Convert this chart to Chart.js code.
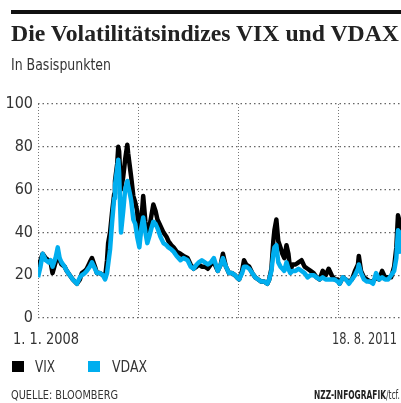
<!DOCTYPE html>
<html>
<head>
<meta charset="utf-8">
<script src="https://cdn.jsdelivr.net/npm/chart.js@4.4.1/dist/chart.umd.min.js"></script>
<style>
  body { margin: 0; width: 401px; height: 403px; position: relative; overflow: hidden; background: #fff;
         font-family: "DejaVu Sans Condensed", "Liberation Sans", sans-serif; color: #222; }
  #chart { position: absolute; left: 0; top: 0; }
  .abs { position: absolute; white-space: nowrap; transform-origin: 0 0; }
  #bar { left: 11px; right: 0; top: 10px; height: 4px; background: #111; }
  #title { left: 11px; top: 22px; font: bold 23.5px/23px "Liberation Serif", serif; color: #222; }
  #sub { left: 11px; top: 58px; font-size: 15px; line-height: 15px; color: #333; }
  .date { top: 331px; font-size: 16px; line-height: 16px; color: #333; }
  .leg { top: 360px; font-size: 16px; line-height: 13px; color: #333; }
  .box { position: absolute; top: 361px; width: 12px; height: 11px; }
  .foot { top: 389px; font-size: 12px; line-height: 12px; color: #333; }
</style>
</head>
<body>
<canvas id="chart" width="401" height="403"></canvas>
<div class="abs" id="bar"></div>
<div class="abs fit" id="title" data-w="388">Die Volatilitätsindizes VIX und VDAX</div>
<div class="abs fit" id="sub" data-w="100">In Basispunkten</div>
<div class="abs date fit" id="dFirst" style="left:13px" data-w="66"></div>
<div class="abs date fit" id="dLast" style="left:332px" data-w="65"></div>
<div id="legend"></div>
<div class="abs foot fit" style="left:11px" data-w="107">QUELLE: BLOOMBERG</div>
<div class="abs foot fit" style="left:314px" data-w="86"><span style="font-weight:bold;color:#222">NZZ-INFOGRAFIK</span>/tcf.</div>

<script>
// Tage seit 1. 1. 2008
const days = [0,9,17,28,39,46,53,64,72,79,86,97,105,116,127,142,153,160,171,178,
  189,197,208,215,226,237,245,252,256,263,270,278,281,289,293,296,303,311,318,326,
  329,337,340,348,355,362,370,377,384,392,399,406,414,421,429,436,447,458,469,476,
  487,495,506,520,531,546,557,568,579,587,598,609,620,631,642,649,656,667,675,686,
  697,708,719,726,734,745,752,760,771,782,793,804,815,826,837,844,852,859,863,870,
  877,885,892,899,907,914,921,929,940,951,962,973,984,995,1006,1017,1028,1039,1050,1061,
  1072,1083,1094,1101,1113,1124,1135,1146,1157,1168,1171,1179,1190,1201,1212,1223,1234,1245,1256,1267,
  1278,1289,1300,1308,1314,1320,1323,1325];

const vix = [24,27,30,28,27,26,21,26,30,27, 25,24,22,20,18,16,18,21,22,23,
  26,28,24,21,21,20,19,27,35,40, 49,58,64,72,80,78,60,66,74,81,
  77,69,66,57,54,50,36,45,57,45, 38,42,48,53,50,46,43,40,38,36,
  34,33,31,30,29,28,25,23,24,25, 24,24,23,25,26,24,22,25,30,24,
  21,21,20,19,18,22,27,25,24,21, 19,18,17,17,16,18,23,36,41,46,
  36,33,30,28,34,30,22,25,25,26, 27,24,23,22,21,19,18,22,20,23,
  20,18,18,16,19,18,17,18,22,25, 29,22,19,18,17,17,19,18,22,19,
  19,19,24,33,48,45,43,40];

const vdax = [19,24,30,27,26,27,24,28,33,28, 26,24,22,20,18,16,19,20,21,22,
  24,26,23,21,21,20,18,21,25,32, 44,56,62,70,74,68,40,50,60,64,
  62,57,55,46,44,38,33,42,47,40, 35,38,42,45,44,42,38,35,34,33,
  32,31,29,27,28,27,24,23,25,26, 27,26,25,26,28,25,22,25,28,24,
  21,21,20,19,18,21,24,24,23,21, 19,18,17,17,16,18,22,30,33,34,
  26,24,23,22,26,23,21,22,22,23, 22,21,19,20,20,19,18,19,18,18,
  18,18,17,16,19,18,16,18,20,23, 25,21,18,17,17,16,21,18,19,18,
  18,20,22,28,41,40,33,30];

const seriesNames = ["VIX", "VDAX"];
const seriesColors = ["#000000", "#00aeef"];
const yearStarts = [0, 366, 731, 1096];
const dateLabels = ["1. 1. 2008", "18. 8. 2011"];
const yTicks = [0, 20, 40, 60, 80, 100];

document.getElementById("dFirst").textContent = dateLabels[0];
document.getElementById("dLast").textContent = dateLabels[1];

// Legende: Kästchen und Text
const legBox = [12, 88], legText = [35, 112], legW = [20, 35];
document.getElementById("legend").innerHTML = seriesNames.map((n, i) =>
  '<div class="box" style="left:' + legBox[i] + 'px;background:' + seriesColors[i] + '"></div>' +
  '<div class="abs leg fit" style="left:' + legText[i] + 'px" data-w="' + legW[i] + '">' + n + '</div>').join("");

// schmale Schrift nachbilden
document.querySelectorAll(".fit").forEach(el => {
  const w = el.getBoundingClientRect().width;
  el.style.transform = "scaleX(" + (el.dataset.w / w) + ")";
});

const toPoints = vals => vals.map((v, i) => ({ x: days[i], y: v }));

new Chart(document.getElementById("chart"), {
  type: "line",
  data: {
    datasets: [
      { label: seriesNames[0], data: toPoints(vix), borderColor: seriesColors[0], order: 1 },
      { label: seriesNames[1], data: toPoints(vdax), borderColor: seriesColors[1], order: 0 }
    ]
  },
  options: {
    responsive: false,
    animation: false,
    devicePixelRatio: 1,
    layout: { padding: { top: 104, bottom: 85, left: 0, right: 0 } },
    elements: {
      point: { radius: 0 },
      line: { borderWidth: 4.5, tension: 0, borderJoinStyle: "round", borderCapStyle: "butt" }
    },
    plugins: { legend: { display: false }, tooltip: { enabled: false } },
    scales: {
      x: {
        type: "linear", min: 0, max: 1325,
        afterBuildTicks: s => { s.ticks = yearStarts.map(v => ({ value: v })); },
        ticks: { display: false },
        grid: { color: "#777", lineWidth: 1, drawTicks: false },
        border: { display: false, dash: [1, 2] }
      },
      y: {
        min: 0, max: 100,
        afterBuildTicks: s => { s.ticks = yTicks.map(v => ({ value: v })); },
        afterFit: s => { s.width = 38; },
        ticks: { padding: 5, color: "#333",
                 font: { family: "'DejaVu Sans Condensed', sans-serif", size: 16 } },
        grid: { color: "#666", lineWidth: 1.2, drawTicks: false },
        border: { display: false, dash: [1.5, 3] }
      }
    }
  }
});
</script>
</body>
</html>
